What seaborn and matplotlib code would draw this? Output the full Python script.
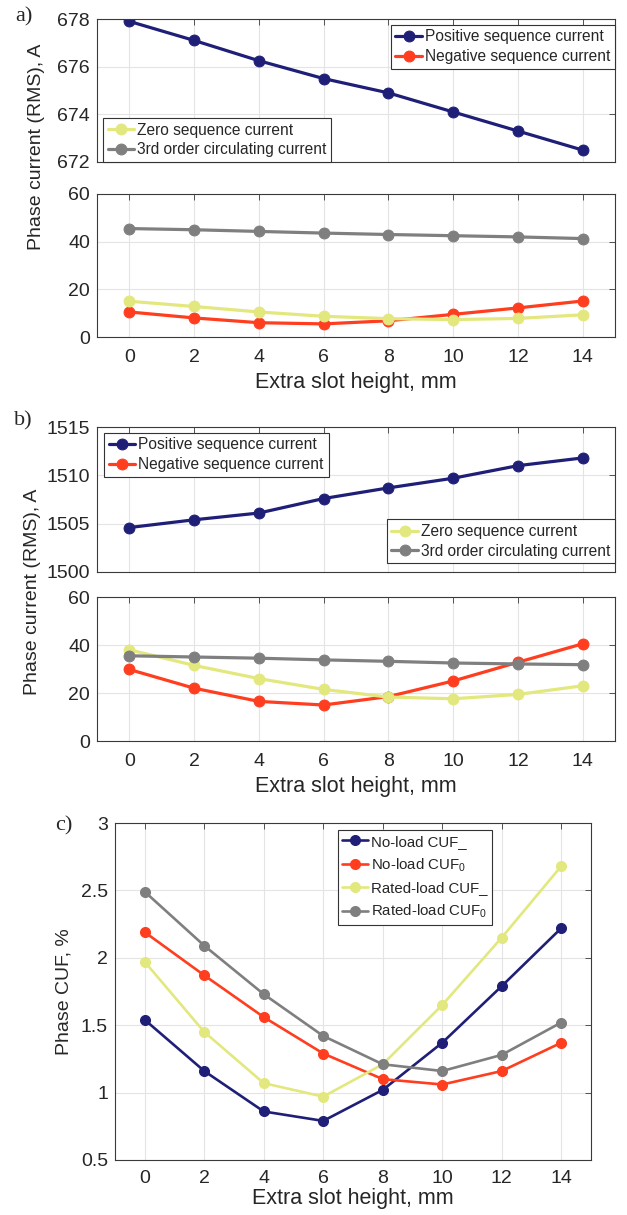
import numpy as np
import pandas as pd
import seaborn as sns
import matplotlib.pyplot as plt

# extra slot height, mm
slot = [0, 2, 4, 6, 8, 10, 12, 14]

# a) no-load phase currents (RMS), A
a_pos = [677.9, 677.1, 676.25, 675.5, 674.9, 674.1, 673.3, 672.5]
a_neg = [10.5, 8.0, 6.0, 5.5, 6.8, 9.5, 12.2, 15.1]
a_zero = [15.0, 12.8, 10.5, 8.7, 7.7, 7.3, 7.8, 9.3]
a_circ = [45.5, 45.0, 44.3, 43.6, 43.0, 42.5, 42.0, 41.3]

# b) rated-load phase currents (RMS), A
b_pos = [1504.6, 1505.4, 1506.1, 1507.6, 1508.7, 1509.7, 1511.0, 1511.8]
b_neg = [29.8, 22.0, 16.5, 15.0, 18.5, 25.0, 32.8, 40.5]
b_zero = [38.0, 31.5, 26.0, 21.5, 18.3, 17.6, 19.4, 23.0]
b_circ = [35.5, 35.0, 34.5, 33.8, 33.2, 32.5, 32.1, 31.8]

# c) phase CUF, %
c_noload_neg = [1.54, 1.16, 0.86, 0.79, 1.02, 1.37, 1.79, 2.22]
c_noload_zero = [2.19, 1.87, 1.56, 1.29, 1.10, 1.06, 1.16, 1.37]
c_rated_neg = [1.97, 1.45, 1.07, 0.97, 1.21, 1.65, 2.15, 2.68]
c_rated_zero = [2.49, 2.09, 1.73, 1.42, 1.21, 1.16, 1.28, 1.52]

names = ["Positive sequence current", "Negative sequence current",
         "Zero sequence current", "3rd order circulating current"]
cuf_names = ["No-load CUF_", "No-load CUF$_0$", "Rated-load CUF_", "Rated-load CUF$_0$"]

navy = "#1f1f78"
red = "#ff3d1f"
yellow = "#e3e87e"
gray = "#7f7f7f"
cols = [navy, red, yellow, gray]

sns.set_theme(style="whitegrid")
plt.rcParams['font.family'] = ['Liberation Sans', 'DejaVu Sans']
plt.rcParams['mathtext.fontset'] = 'custom'
plt.rcParams['mathtext.rm'] = 'Liberation Sans'

FS = 14
XFS = 15.5
LW = 2.3
MS = 7.8


def style(ax, xlabels=True):
    ax.set_facecolor("white")
    ax.set_xlim(-1, 15)
    ax.set_xticks(slot)
    ax.grid(True, color="#e4e4e4", linewidth=0.8)
    for s in ax.spines.values():
        s.set_color("#3a3a3a")
        s.set_linewidth(0.8)
    ax.tick_params(direction="in", length=4, width=0.6, top=True, right=True,
                   labelsize=FS, colors="#3a3a3a", labelcolor="#262626", pad=5)
    ax.tick_params(axis="x", pad=9)
    if not xlabels:
        ax.set_xticklabels([])
    ax.set_xlabel("")
    ax.set_ylabel("")


def draw(ax, y, c, label):
    sns.lineplot(x=slot, y=y, ax=ax, color=c, linewidth=LW, marker="o",
                 markersize=MS, markeredgecolor=c, label=label, legend=False)


def leg(ax, handles, labels, fs=11.2, ls=0.3, **kw):
    lg = ax.legend(handles, labels, fontsize=fs, frameon=True, fancybox=False,
                   framealpha=1, edgecolor="#333333", handlelength=1.7,
                   handletextpad=0.2, borderpad=0.3, labelspacing=ls,
                   borderaxespad=0, **kw)
    lg.get_frame().set_linewidth(0.8)
    return lg


W, H = 627, 1215
fig = plt.figure(figsize=(W / 100, H / 100), dpi=100)


def box(l, t, r, b):
    return [l / W, 1 - b / H, (r - l) / W, (b - t) / H]


# ---- panel a
ax_at = fig.add_axes(box(97, 19, 615, 162))
ax_ab = fig.add_axes(box(97, 194, 615, 337))
draw(ax_at, a_pos, navy, names[0])
for y, c, n in zip([a_neg, a_zero, a_circ], cols[1:], names[1:]):
    draw(ax_ab, y, c, n)
ax_at.set_ylim(672, 678)
ax_at.set_yticks([672, 674, 676, 678])
ax_ab.set_ylim(0, 60)
ax_ab.set_yticks([0, 20, 40, 60])
style(ax_at, xlabels=False)
style(ax_ab)
ax_ab.set_xlabel("Extra slot height, mm", fontsize=XFS, color="#262626", labelpad=4)
h = ax_at.get_lines()[:1] + ax_ab.get_lines()[:3]
l1 = leg(ax_at, h[:2], names[:2], loc="upper right", bbox_to_anchor=(1.0, 0.96))
ax_at.add_artist(l1)
leg(ax_at, h[2:], names[2:], loc="lower left", bbox_to_anchor=(0.012, 0.0))
fig.text(37 / W, 1 - 147 / H, "Phase current (RMS), A", rotation=90, fontsize=FS,
         color="#262626", ha="center", va="center")
fig.text(24 / W, 1 - 17 / H, "a)", family="Liberation Serif", fontsize=16,
         ha="center", va="center")

# ---- panel b
ax_bt = fig.add_axes(box(97, 427, 615, 572))
ax_bb = fig.add_axes(box(97, 597, 615, 741))
draw(ax_bt, b_pos, navy, names[0])
for y, c, n in zip([b_neg, b_zero, b_circ], cols[1:], names[1:]):
    draw(ax_bb, y, c, n)
ax_bt.set_ylim(1500, 1515)
ax_bt.set_yticks([1500, 1505, 1510, 1515])
ax_bb.set_ylim(0, 60)
ax_bb.set_yticks([0, 20, 40, 60])
style(ax_bt, xlabels=False)
style(ax_bb)
ax_bb.set_xlabel("Extra slot height, mm", fontsize=XFS, color="#262626", labelpad=4)
h = ax_bt.get_lines()[:1] + ax_bb.get_lines()[:3]
l2 = leg(ax_bt, h[:2], names[:2], loc="upper left", bbox_to_anchor=(0.014, 0.96))
ax_bt.add_artist(l2)
leg(ax_bt, h[2:], names[2:], loc="lower right", bbox_to_anchor=(1.0, 0.06))
fig.text(33 / W, 1 - 592 / H, "Phase current (RMS), A", rotation=90, fontsize=FS,
         color="#262626", ha="center", va="center")
fig.text(23 / W, 1 - 421 / H, "b)", family="Liberation Serif", fontsize=16,
         ha="center", va="center")

# ---- panel c
ax_c = fig.add_axes(box(115, 823, 591, 1160))
for y, c, n in zip([c_noload_neg, c_noload_zero, c_rated_neg, c_rated_zero], cols, cuf_names):
    sns.lineplot(x=slot, y=y, ax=ax_c, color=c, linewidth=1.9, marker="o",
                 markersize=7.2, markeredgecolor=c, label=n, legend=False)
ax_c.set_ylim(0.5, 3)
ax_c.set_yticks([0.5, 1, 1.5, 2, 2.5, 3])
ax_c.set_yticklabels(["0.5", "1", "1.5", "2", "2.5", "3"])
style(ax_c)
ax_c.tick_params(axis="x", pad=7)
ax_c.set_xlabel("Extra slot height, mm", fontsize=XFS, color="#262626", labelpad=1)
ax_c.set_ylabel("Phase CUF, %", fontsize=FS, color="#262626", labelpad=6)
leg(ax_c, ax_c.get_lines()[:4], cuf_names, fs=10.8, ls=0.5,
    loc="upper left", bbox_to_anchor=(0.468, 0.979))
fig.text(64 / W, 1 - 826 / H, "c)", family="Liberation Serif", fontsize=16,
         ha="center", va="center")

fig.savefig("out.png", dpi=100)
